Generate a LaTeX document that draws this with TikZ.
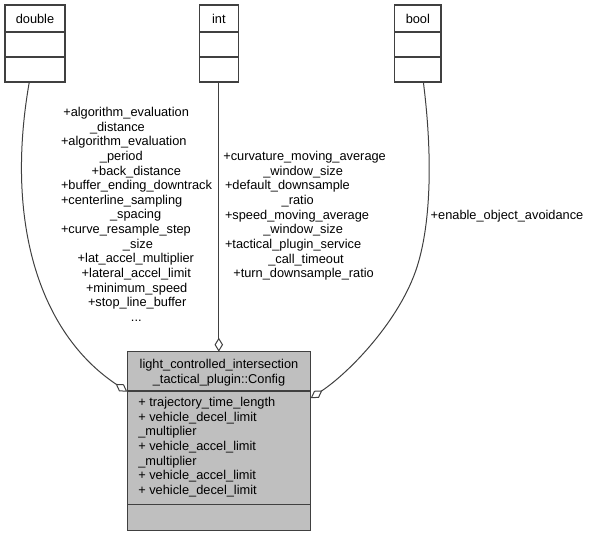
\documentclass[tikz,border=0pt]{standalone}
\usepackage{fontspec}
\setmainfont{Liberation Sans}
\usetikzlibrary{arrows.meta,calc}
\definecolor{edgegray}{HTML}{404040}
\definecolor{fillgray}{HTML}{BFBFBF}
\begin{document}
\begin{tikzpicture}[x=1pt,y=-1pt,
  box/.style={draw=edgegray, line width=1.3pt, inner sep=0pt, outer sep=0pt},
  divider/.style={draw=edgegray, line width=1.3pt},
  txt/.style={inner sep=0pt, outer sep=0pt, font=\fontsize{12.8}{14.65}\selectfont},
  lbl/.style={txt, align=left, anchor=base west},
  agg/.style={draw=edgegray, line width=1pt, -{Diamond[open,length=14pt,width=8.5pt]}}]
\useasboundingbox (0,0) rectangle (590,536);

% type boxes
\node[box, minimum width=60pt, minimum height=77pt] (dbl) at (35,43.5) {};
\node[box, minimum width=39pt, minimum height=77pt] (intb) at (218.8,43.5) {};
\node[box, minimum width=46.3pt, minimum height=77pt] (boolb) at (417.85,43.5) {};
\foreach \b in {dbl,intb,boolb}{
  \draw[divider] ($(\b.north west)+(0,27)$) -- ($(\b.north east)+(0,27)$);
  \draw[divider] ($(\b.north west)+(0,52)$) -- ($(\b.north east)+(0,52)$);
}
\node[txt] (dblt) at (35,18.5) {double};
\node[txt] (intt) at (218.8,18.5) {int};
\node[txt] (boolt) at (417.85,18.5) {bool};

% main class box
\node[box, fill=fillgray, minimum width=183.4pt, minimum height=179pt] (main) at (219,441.2) {};
\draw[divider] ($(main.north west)+(0,39.3)$) -- ($(main.north east)+(0,39.3)$);
\draw[divider] ($(main.north west)+(0,152.6)$) -- ($(main.north east)+(0,152.6)$);
\node[txt, align=center] (mt) at (219,372.6) {light\_controlled\_intersection\\\_tactical\_plugin::Config};
\node[lbl] (ma) at (138.3,494.5) {+ trajectory\_time\_length\\+ vehicle\_decel\_limit\\\_multiplier\\+ vehicle\_accel\_limit\\\_multiplier\\+ vehicle\_accel\_limit\\+ vehicle\_decel\_limit};

% connectors
\draw[agg] ($(dbl.south)+(-5.7,0)$) .. controls (5,220) and (38,332) .. ($(main.north west)+(0,40)$);
\draw[agg] (intb.south) -- (intb.south |- main.north);
\draw[agg] ($(boolb.south)+(5.5,0)$) .. controls (432,150) and (432,220) .. (417,267) .. controls (400,320) and (350,372) .. ($(main.north east)+(0,46.5)$);

% labels
\node[lbl] (dlbl) at (61,321.5) {\hspace*{2.3pt}+algorithm\_evaluation\\
\hspace*{29pt}\_distance\\
+algorithm\_evaluation\\
\hspace*{39pt}\_period\\
\hspace*{30.7pt}+back\_distance\\
+buffer\_ending\_downtrack\\
+centerline\_sampling\\
\hspace*{49pt}\_spacing\\
+curve\_resample\_step\\
\hspace*{62pt}\_size\\
\hspace*{16.7pt}+lat\_accel\_multiplier\\
\hspace*{20.7pt}+lateral\_accel\_limit\\
\hspace*{25pt}+minimum\_speed\\
\hspace*{27pt}+stop\_line\_buffer\\
\hspace*{70pt}...};
\node[lbl] (ilbl) at (223.3,277.8) {+curvature\_moving\_average\\
\hspace*{40pt}\_window\_size\\
\hspace*{1.7pt}+default\_downsample\\
\hspace*{58.4pt}\_ratio\\
\hspace*{1.7pt}+speed\_moving\_average\\
\hspace*{40pt}\_window\_size\\
\hspace*{1.7pt}+tactical\_plugin\_service\\
\hspace*{45pt}\_call\_timeout\\
\hspace*{10pt}+turn\_downsample\_ratio};
\node[lbl] (blbl) at (430.7,219.5) {+enable\_object\_avoidance};
\end{tikzpicture}
\end{document}
